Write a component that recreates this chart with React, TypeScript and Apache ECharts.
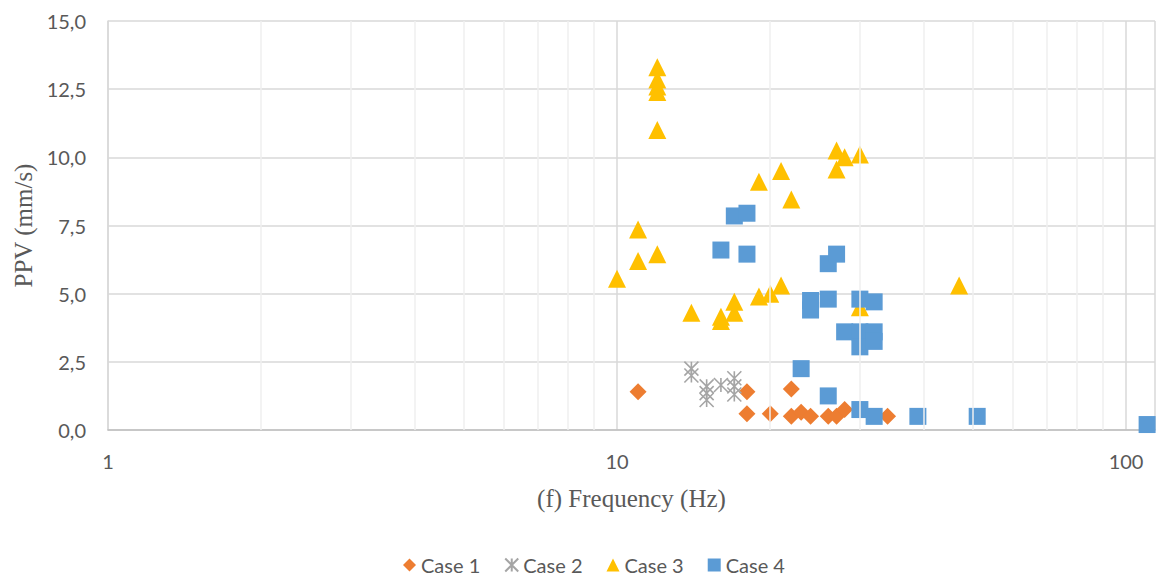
import React, { useEffect, useRef } from 'react';
import * as echarts from 'echarts';

const case1: [number, number][] = [
  [11, 1.4], [18, 1.4], [18, 0.6], [20, 0.6], [22, 1.5], [22, 0.5], [23, 0.65],
  [24, 0.5], [26, 0.5], [27, 0.5], [28, 0.75], [34, 0.5],
];
const case2: [number, number][] = [
  [14, 2.25], [14, 2.0], [15, 1.6], [15, 1.35], [15, 1.1], [16, 1.65],
  [17, 1.9], [17, 1.6], [17, 1.3],
];
const case3: [number, number][] = [
  [10, 5.55], [11, 7.35], [11, 6.2], [12, 13.3], [12, 12.85], [12, 12.6], [12, 12.4],
  [12, 11.0], [12, 6.45], [14, 4.3], [16, 4.15], [16, 4.0], [17, 4.7], [17, 4.3],
  [19, 9.1], [19, 4.9], [20, 5.0], [21, 9.5], [21, 5.3], [22, 8.45], [27, 10.25],
  [27, 9.55], [28, 10.0], [30, 10.1], [30, 4.5], [47, 5.3],
];
const case4: [number, number][] = [
  [16, 6.6], [17, 7.85], [18, 7.95], [18, 6.45], [23, 2.25], [24, 4.75], [24, 4.4],
  [26, 6.1], [26, 4.8], [26, 1.25], [27, 6.45], [28, 3.6], [30, 4.8], [30, 3.6],
  [30, 3.05], [30, 0.75], [32, 4.7], [32, 3.6], [32, 3.25], [32, 0.5], [39, 0.5],
  [51, 0.5], [110, 0.2],
];
const seriesNames = ['Case 1', 'Case 2', 'Case 3', 'Case 4'];
const xMajorLabels = [1, 10, 100];
const xMinorGrid = [2, 3, 4, 5, 6, 7, 8, 9, 20, 30, 40, 50, 60, 70, 80, 90];

const STAR = 'path://M0,0L10,10M10,0L0,10M5,0L5,10';
const labelFont = 'Lato, "Open Sans", sans-serif';
const serif = '"Liberation Serif", "Times New Roman", serif';

export default function App() {
  const ref = useRef<HTMLDivElement>(null);
  useEffect(() => {
    const chart = echarts.init(ref.current!, null, { renderer: 'svg' });
    chart.setOption({
      animation: false,
      backgroundColor: '#ffffff',
      grid: { left: 108, right: 0, top: 21, bottom: 146, containLabel: false },
      xAxis: {
        type: 'log',
        logBase: 10,
        min: 1,
        max: 114,
        name: '(f) Frequency (Hz)',
        nameLocation: 'middle',
        nameGap: 56,
        nameTextStyle: { fontFamily: serif, fontSize: 25, color: '#595959' },
        axisLine: { show: true, lineStyle: { color: '#bfbfbf', width: 1.5 } },
        axisTick: { show: false },
        axisLabel: {
          margin: 21,
          fontFamily: labelFont,
          fontSize: 20,
          color: '#595959',
          formatter: (v: number) => {
            const r = Math.round(v);
            return xMajorLabels.includes(r) && Math.abs(v - r) < 1e-6 ? String(r) : '';
          },
        },
        splitLine: { show: true, lineStyle: { color: '#d9d9d9', width: 1.5 } },
      },
      yAxis: {
        type: 'value',
        min: 0,
        max: 15,
        interval: 2.5,
        name: 'PPV (mm/s)',
        nameLocation: 'middle',
        nameGap: 72,
        nameTextStyle: { fontFamily: serif, fontSize: 25, color: '#595959' },
        axisLine: { show: true, lineStyle: { color: '#d9d9d9', width: 1.5 } },
        axisTick: { show: false },
        axisLabel: {
          margin: 22,
          fontFamily: labelFont,
          fontSize: 20,
          color: '#595959',
          formatter: (v: number) => v.toFixed(1).replace('.', ','),
        },
        splitLine: { show: true, lineStyle: { color: '#d9d9d9', width: 1.5 } },
      },
      legend: {
        data: seriesNames,
        top: 555,
        left: 403,
        padding: 0,
        itemWidth: 13,
        itemHeight: 13,
        itemGap: 24,
        textStyle: { fontFamily: labelFont, fontSize: 20, lineHeight: 20, color: '#595959' },
      },
      series: [
        {
          name: 'minor',
          type: 'scatter',
          data: [],
          z: 0,
          silent: true,
          markLine: {
            silent: true,
            symbol: ['none', 'none'],
            label: { show: false },
            lineStyle: { color: '#efefef', width: 1.5, type: 'solid' },
            data: xMinorGrid.map((v) => ({ xAxis: v })),
          },
        },
        {
          name: 'Case 1',
          type: 'scatter',
          symbol: 'diamond',
          symbolSize: 17,
          itemStyle: { color: '#ED7D31', opacity: 1 },
          data: case1,
          z: 3,
        },
        {
          name: 'Case 2',
          type: 'scatter',
          symbol: STAR,
          symbolSize: 14,
          itemStyle: { color: 'rgba(0,0,0,0)', borderColor: '#A5A5A5', borderWidth: 1.6, opacity: 1 },
          data: case2,
          z: 3,
        },
        {
          name: 'Case 3',
          type: 'scatter',
          symbol: 'triangle',
          symbolSize: 18,
          itemStyle: { color: '#FFC000', opacity: 1 },
          data: case3,
          z: 3,
        },
        {
          name: 'Case 4',
          type: 'scatter',
          symbol: 'rect',
          symbolSize: 17,
          itemStyle: { color: '#5B9BD5', opacity: 1 },
          data: case4,
          z: 3,
        },
      ],
    });
    return () => chart.dispose();
  }, []);
  return (
    <div
      ref={ref}
      style={{ position: 'fixed', left: 0, top: 0, width: 1158, height: 576, background: '#fff' }}
    />
  );
}
